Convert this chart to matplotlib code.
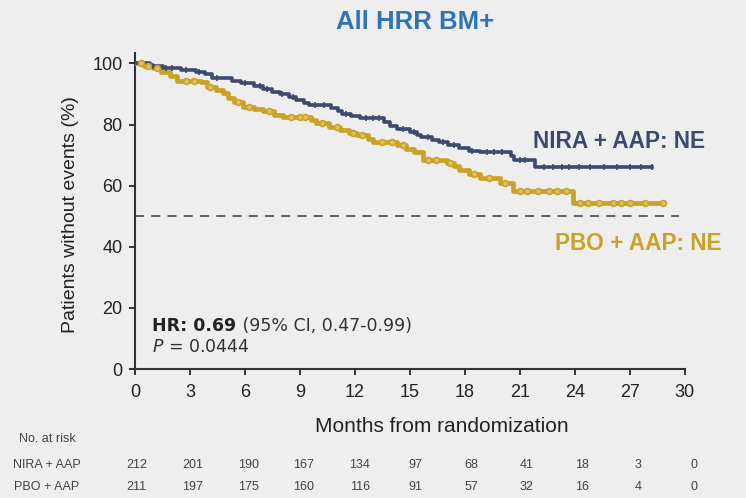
import numpy as np
import matplotlib
matplotlib.use("Agg")
import matplotlib.pyplot as plt
from matplotlib.transforms import blended_transform_factory

# ---------------- data ----------------
nira_t = [0, 0.8, 1.5, 2.5, 3.3, 3.8, 4.2, 5.3, 5.8, 6.5, 7.0, 7.5, 7.9, 8.4, 8.8, 9.2, 9.5,
          10.7, 11.1, 11.3, 11.8, 12.3, 13.6, 13.9, 14.3, 15.0, 15.4, 15.6, 16.2, 16.6, 17.1,
          17.7, 18.2, 18.8, 20.5, 20.7, 21.8]
nira_s = [100, 99.3, 98.6, 98.0, 97.3, 96.5, 95.2, 94.3, 93.5, 92.6, 91.8, 90.8, 89.9, 88.9,
          87.9, 87.0, 86.3, 85.4, 84.5, 83.5, 82.7, 82.0, 80.9, 79.6, 78.6, 77.5, 76.6, 75.8,
          75.0, 74.2, 73.2, 72.2, 71.5, 70.9, 69.8, 68.5, 66.0]
nira_end = 28.2
nira_cens = [1.0, 1.7, 2.0, 2.8, 3.5, 4.5, 6.0, 6.8, 7.2, 8.0, 8.6, 9.8, 10.3, 11.5, 12.6, 13.0,
             13.3, 14.6, 15.2, 16.0, 16.8, 17.4, 18.4, 19.2, 19.6, 20.0, 21.0, 21.3, 22.3, 22.8,
             23.3, 23.7, 24.2, 24.8, 25.6, 26.3, 27.0, 27.6, 28.2]

pbo_t = [0, 0.5, 1.0, 1.4, 1.9, 2.3, 3.6, 3.9, 4.4, 4.8, 5.1, 5.4, 5.9, 6.5, 7.0, 7.6, 8.1,
         9.6, 9.9, 10.6, 11.2, 11.7, 12.1, 12.7, 13.0, 14.3, 14.8, 15.2, 15.7, 17.0, 17.4,
         17.7, 18.2, 18.8, 19.9, 20.6, 23.9]
pbo_s = [100, 99.3, 98.6, 97.2, 95.8, 94.4, 93.8, 92.2, 91.4, 90.5, 88.8, 87.3, 85.6, 85.0,
         84.3, 83.3, 82.4, 81.4, 80.4, 79.2, 78.1, 77.3, 76.5, 75.3, 74.2, 73.2, 72.0, 70.9,
         68.3, 67.5, 66.3, 65.0, 63.7, 62.4, 60.8, 58.2, 54.2]
pbo_end = 28.8
pbo_cens = [0.3, 0.7, 1.2, 2.8, 3.2, 4.1, 5.6, 6.2, 7.3, 8.5, 9.0, 9.3, 10.2, 11.0, 11.9, 12.4,
            13.5, 14.0, 14.6, 16.0, 16.4, 17.2, 18.5, 19.3, 20.2, 21.0, 21.4, 22.0, 22.6, 23.0,
            23.5, 24.3, 24.7, 25.3, 26.1, 26.5, 27.0, 27.8, 28.8]

risk_months = [0, 3, 6, 9, 12, 15, 18, 21, 24, 27, 30]
risk_nira = [212, 201, 190, 167, 134, 97, 68, 41, 18, 3, 0]
risk_pbo = [211, 197, 175, 160, 116, 91, 57, 32, 16, 4, 0]

x_ticks = [0, 3, 6, 9, 12, 15, 18, 21, 24, 27, 30]
y_ticks = [0, 20, 40, 60, 80, 100]

# ---------------- style ----------------
BG = "#eeeeee"
NAVY = "#3c4a70"
GOLD = "#c9a227"
TITLE = "#2f74b5"
SANS = ["Liberation Sans", "DejaVu Sans"]
NARROW = ["Liberation Sans Narrow", "Liberation Sans", "DejaVu Sans"]

fig = plt.figure(figsize=(7.46, 4.98), dpi=100, facecolor=BG)
ax = fig.add_axes([0.181, 0.259, 0.737, 0.635], facecolor=BG)


def step_val(times, surv, t):
    i = np.searchsorted(times, t, side="right") - 1
    return surv[max(i, 0)]


def draw_curve(times, surv, end, cens, color, lw, marker, ms, mfc):
    xs = list(times) + [end]
    ys = list(surv) + [surv[-1]]
    ax.step(xs, ys, where="post", color=color, lw=lw, zorder=3)
    cy = [step_val(times, surv, c) for c in cens]
    ax.plot(cens, cy, linestyle="none", marker=marker, ms=ms, mec=color,
            mfc=mfc, mew=1.2, zorder=4)


draw_curve(pbo_t, pbo_s, pbo_end, pbo_cens, GOLD, 3.4, "o", 4.2, "#ddc16a")
draw_curve(nira_t, nira_s, nira_end, nira_cens, NAVY, 2.6, "|", 5, NAVY)

ax.plot([0, 29.7], [50, 50], ls=(0, (5, 4)), color="#555555", lw=1.3, zorder=2)

ax.set_xlim(0, 30)
ax.set_ylim(0, 103.5)
ax.set_xticks(x_ticks)
ax.set_yticks(y_ticks)
for s in ["top", "right"]:
    ax.spines[s].set_visible(False)
for s in ["left", "bottom"]:
    ax.spines[s].set_linewidth(1.5)
    ax.spines[s].set_color("#333333")
ax.spines["bottom"].set_bounds(-0.3, 30)
ax.tick_params(axis="both", direction="out", length=4, width=1.4, color="#333333",
               labelsize=13, labelcolor="#222222")
ax.tick_params(axis="x", pad=7)
ax.tick_params(axis="y", pad=5)
for lab in ax.get_xticklabels() + ax.get_yticklabels():
    lab.set_family(SANS)

ax.set_ylabel("Patients without events (%)", fontsize=14, family=SANS, color="#222222")
ax.yaxis.set_label_coords(-0.102, 0.49)
ax.set_xlabel("Months from randomization", fontsize=15, family=SANS, color="#222222")
ax.xaxis.set_label_coords(0.558, -0.152)

fig.text(0.556, 0.955, "All HRR BM+", ha="center", va="center", fontsize=18.5,
         fontweight="bold", color=TITLE, family=SANS)

ax.text(21.7, 74.5, "NIRA + AAP: NE", color=NAVY, fontsize=16.3, fontweight="bold",
        family=SANS, va="center", ha="left")
ax.text(22.9, 41.0, "PBO + AAP: NE", color=GOLD, fontsize=16.3, fontweight="bold",
        family=SANS, va="center", ha="left")

hr = ax.text(0.95, 12.6, "HR: 0.69", fontsize=12.5, fontweight="bold",
             family="DejaVu Sans", color="#222222", va="baseline")
ax.annotate(" (95% CI, 0.47-0.99)", xy=(1, 0), xycoords=hr, fontsize=12.5,
            family="DejaVu Sans", color="#333333", va="bottom", ha="left")
ax.text(0.95, 5.6, r"$\it{P}$ = 0.0444", fontsize=12.5, family="DejaVu Sans",
        color="#333333", va="baseline")

# risk table
tr = blended_transform_factory(ax.transData, fig.transFigure)
fig.text(0.063, 0.119, "No. at risk", fontsize=9, family=NARROW, color="#444444",
         ha="center", va="center")
fig.text(0.063, 0.067, "NIRA + AAP", fontsize=9, family=NARROW, color="#444444",
         ha="center", va="center")
fig.text(0.063, 0.022, "PBO + AAP", fontsize=9, family=NARROW, color="#444444",
         ha="center", va="center")
for m, a, b in zip(risk_months, risk_nira, risk_pbo):
    xm = m * 1.013 + 0.1
    ax.text(xm, 0.067, str(a), transform=tr, fontsize=9, family=NARROW,
            color="#444444", ha="center", va="center")
    ax.text(xm, 0.022, str(b), transform=tr, fontsize=9, family=NARROW,
            color="#444444", ha="center", va="center")

fig.savefig("out.png", dpi=100, facecolor=BG)
